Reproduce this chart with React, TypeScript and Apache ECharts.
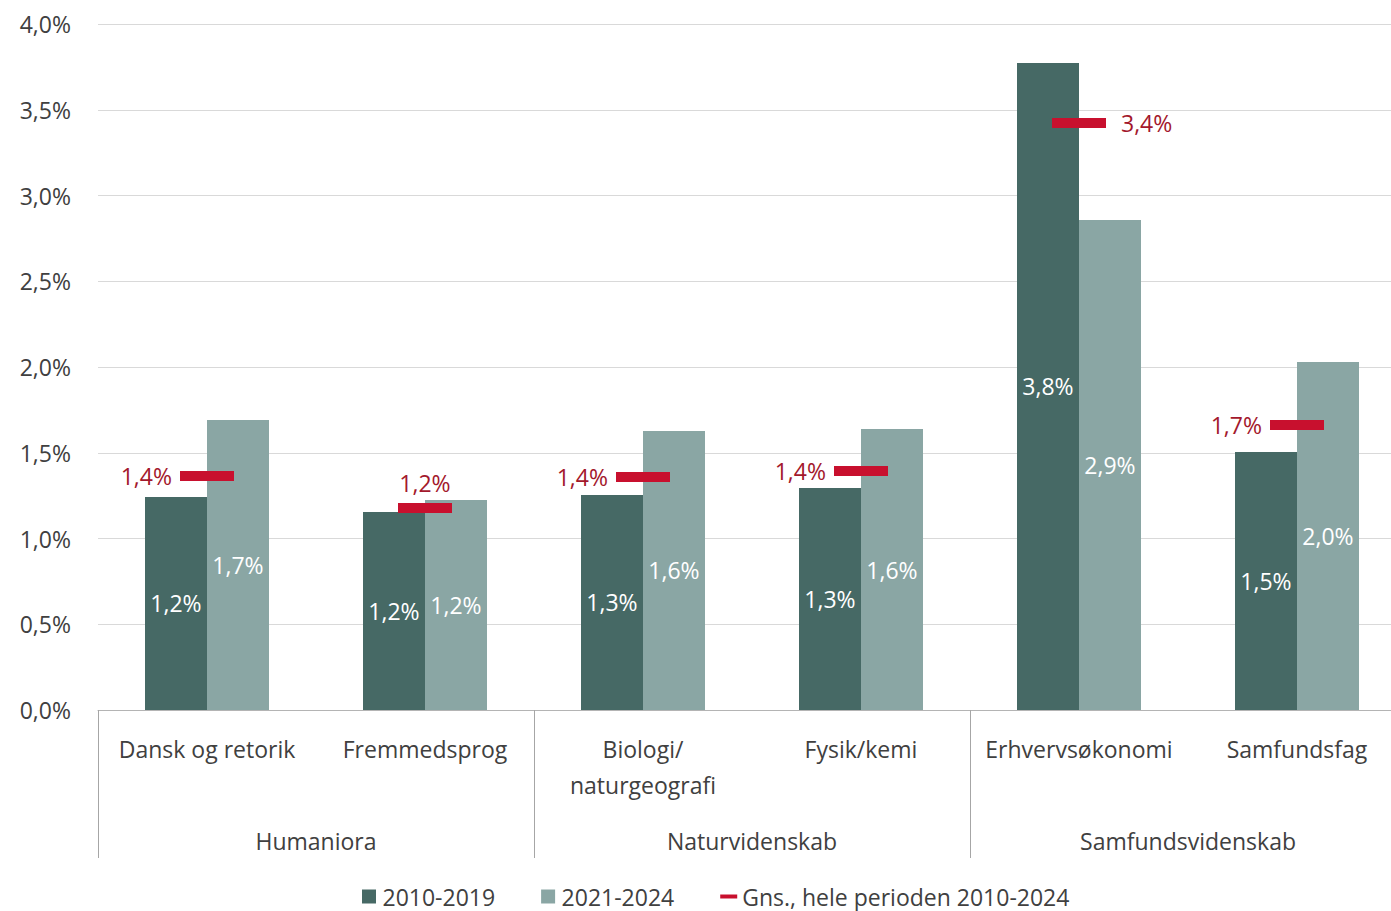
import React, { useEffect, useRef } from "react";
import * as echarts from "echarts";

const categories = ["Dansk og retorik", "Fremmedsprog", "Biologi/\nnaturgeografi", "Fysik/kemi", "Erhvervsøkonomi", "Samfundsfag"];
const groups = ["Humaniora", "Naturvidenskab", "Samfundsvidenskab"];
const period1 = [1.242, 1.155, 1.254, 1.294, 3.773, 1.504];
const period2 = [1.691, 1.224, 1.627, 1.638, 2.857, 2.029];
const average = [1.364, 1.178, 1.359, 1.394, 3.423, 1.662];
const averageLabelSide = ["left", "top", "left", "left", "right", "left"];
const seriesNames = ["2010-2019", "2021-2024", "Gns., hele perioden 2010-2024"];

const FONT = "'Open Sans', 'Noto Sans', sans-serif";
const FS = 23;
const fmt = (v: number) => v.toFixed(1).replace(".", ",") + "%";

export default function App() {
  const ref = useRef<HTMLDivElement>(null);
  useEffect(() => {
    if (!ref.current) return;
    const chart = echarts.init(ref.current, null, { renderer: "svg" });
    chart.setOption({
      animation: false,
      textStyle: { fontFamily: FONT },
      grid: { left: 98, right: 0, top: 24, bottom: 201 },
      legend: {
        left: 357,
        top: 880,
        itemWidth: 17,
        itemHeight: 14,
        itemGap: 46,
        textStyle: { fontSize: FS, color: "#404040", fontFamily: FONT },
        data: [
          { name: seriesNames[0], icon: "path://M0,0h14v14h-14z" },
          { name: seriesNames[1], icon: "path://M0,0h14v14h-14z" },
          { name: seriesNames[2], icon: "path://M0,0h17v4h-17z" },
        ],
      },
      xAxis: [
        {
          type: "category",
          data: categories,
          axisLine: { show: true, lineStyle: { color: "#b4b4b4", width: 1 } },
          axisTick: { show: false },
          axisLabel: { fontSize: FS, color: "#404040", margin: 21, lineHeight: 36, fontFamily: FONT, interval: 0 },
        },
        {
          type: "category",
          data: groups,
          position: "bottom",
          axisLine: { show: false },
          axisTick: { show: true, length: 148, lineStyle: { color: "#a6a6a6", width: 1 } },
          axisLabel: { fontSize: FS, color: "#404040", margin: 116, lineHeight: 30, fontFamily: FONT, interval: 0 },
        },
      ],
      yAxis: {
        type: "value",
        min: 0,
        max: 4,
        interval: 0.5,
        axisLine: { show: false },
        axisTick: { show: false },
        splitLine: { lineStyle: { color: "#d9d9d9", width: 1 } },
        axisLabel: { fontSize: FS, color: "#404040", margin: 27, fontFamily: FONT, formatter: (v: number) => fmt(v) },
      },
      series: [
        {
          name: seriesNames[0],
          type: "bar",
          xAxisIndex: 0,
          data: period1,
          barWidth: 62,
          barGap: "0%",
          itemStyle: { color: "#466965" },
          label: { show: true, position: "inside", color: "#ffffff", fontSize: FS, fontFamily: FONT, formatter: (p: any) => fmt(p.value) },
        },
        {
          name: seriesNames[1],
          type: "bar",
          xAxisIndex: 0,
          data: period2,
          barWidth: 62,
          barGap: "0%",
          itemStyle: { color: "#8aa6a4" },
          label: { show: true, position: "inside", color: "#ffffff", fontSize: FS, fontFamily: FONT, formatter: (p: any) => fmt(p.value) },
        },
        {
          name: seriesNames[2],
          type: "scatter",
          xAxisIndex: 0,
          symbol: "rect",
          symbolSize: [54, 10],
          itemStyle: { color: "#c8102e", opacity: 1 },
          z: 5,
          data: average.map((v, i) => ({
            value: v,
            label: { position: averageLabelSide[i], distance: averageLabelSide[i] === "right" ? 15 : 8 },
          })),
          label: {
            show: true,
            distance: 8,
            color: "#a3182c",
            fontSize: FS,
            fontFamily: FONT,
            formatter: (p: any) => fmt(p.value),
          },
        },
      ],
    });
    return () => chart.dispose();
  }, []);
  return (
    <div style={{ position: "absolute", left: 0, top: 0, width: 1391, height: 911, overflow: "hidden" }}>
      <div ref={ref} style={{ position: "absolute", left: 0, top: 0, width: 1406, height: 911 }} />
    </div>
  );
}
